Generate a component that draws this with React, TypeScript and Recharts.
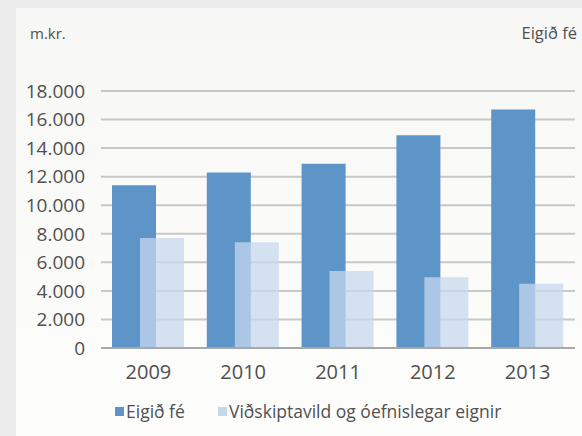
import React from "react";
import { BarChart, Bar, XAxis, YAxis, CartesianGrid, Legend } from "recharts";

const years = ["2009", "2010", "2011", "2012", "2013"];
const eigidFe = [11400, 12300, 12900, 14900, 16700];
const vidskiptavild = [7700, 7400, 5400, 4950, 4500];
const yTicks = [0, 2000, 4000, 6000, 8000, 10000, 12000, 14000, 16000, 18000];

const seriesNames = ["Eigið fé", "Viðskiptavild og óefnislegar eignir"];
const DARK = "#5e95c9";
const LIGHT = "#c5d8ed";
const FONT = "'Open Sans', sans-serif";

const data = years.map((y, i) => ({ year: y, a: eigidFe[i], b: vidskiptavild[i] }));

const fmt = (v: number) => (v === 0 ? "0" : `${Math.round(v / 1000)}.000`);

const LegendContent = () => (
  <div style={{ position: "relative", width: 582, height: 30, fontFamily: FONT, fontSize: 17.5, color: "#505050" }}>
    <div style={{ position: "absolute", left: 115, top: 7, width: 9, height: 9, background: DARK }} />
    <span style={{ position: "absolute", left: 126, top: 0, lineHeight: "22px" }}>{seriesNames[0]}</span>
    <div style={{ position: "absolute", left: 218, top: 7, width: 9, height: 9, background: LIGHT }} />
    <span style={{ position: "absolute", left: 229, top: 0, lineHeight: "22px" }}>{seriesNames[1]}</span>
  </div>
);

export default function App() {
  return (
    <div style={{ position: "absolute", left: 0, top: 0, width: 582, height: 436, background: "#ececec", overflow: "hidden" }}>
      <div style={{ position: "absolute", left: 16, top: 8, width: 566, height: 428, background: "linear-gradient(#f7f7f6, #fdfdfc)" }} />
      <div style={{ position: "absolute", left: 30, top: 23, fontFamily: FONT, fontSize: 15, color: "#505050" }}>m.kr.</div>
      <div style={{ position: "absolute", right: 5, top: 21, fontFamily: FONT, fontSize: 16.5, color: "#505050" }}>Eigið fé</div>
      <div style={{ position: "absolute", left: 0, top: 0 }}>
        <BarChart width={582} height={436} data={data} margin={{ top: 91, right: 7, left: 0, bottom: 48 }} barSize={44} barGap={-16}>
          <CartesianGrid vertical={false} stroke="#c8c8c8" strokeWidth={2} />
          <YAxis
            width={101}
            domain={[0, 18000]}
            ticks={yTicks}
            tickFormatter={fmt}
            axisLine={false}
            tickLine={false}
            tickMargin={10}
            interval={0}
            tick={{ fill: "#505050", fontSize: 19, fontFamily: FONT }}
          />
          <XAxis
            dataKey="year"
            height={40}
            axisLine={{ stroke: "#a8a8a8", strokeWidth: 2 }}
            tickLine={false}
            tickMargin={11}
            tick={{ fill: "#505050", fontSize: 20, fontFamily: FONT }}
          />
          <Legend
            layout="horizontal"
            verticalAlign="middle"
            align="center"
            wrapperStyle={{ top: 400, left: 0, width: 582 }}
            content={<LegendContent />}
          />
          <Bar dataKey="a" name={seriesNames[0]} fill={DARK} isAnimationActive={false} />
          <Bar dataKey="b" name={seriesNames[1]} fill={LIGHT} fillOpacity={0.75} isAnimationActive={false} />
        </BarChart>
      </div>
    </div>
  );
}
